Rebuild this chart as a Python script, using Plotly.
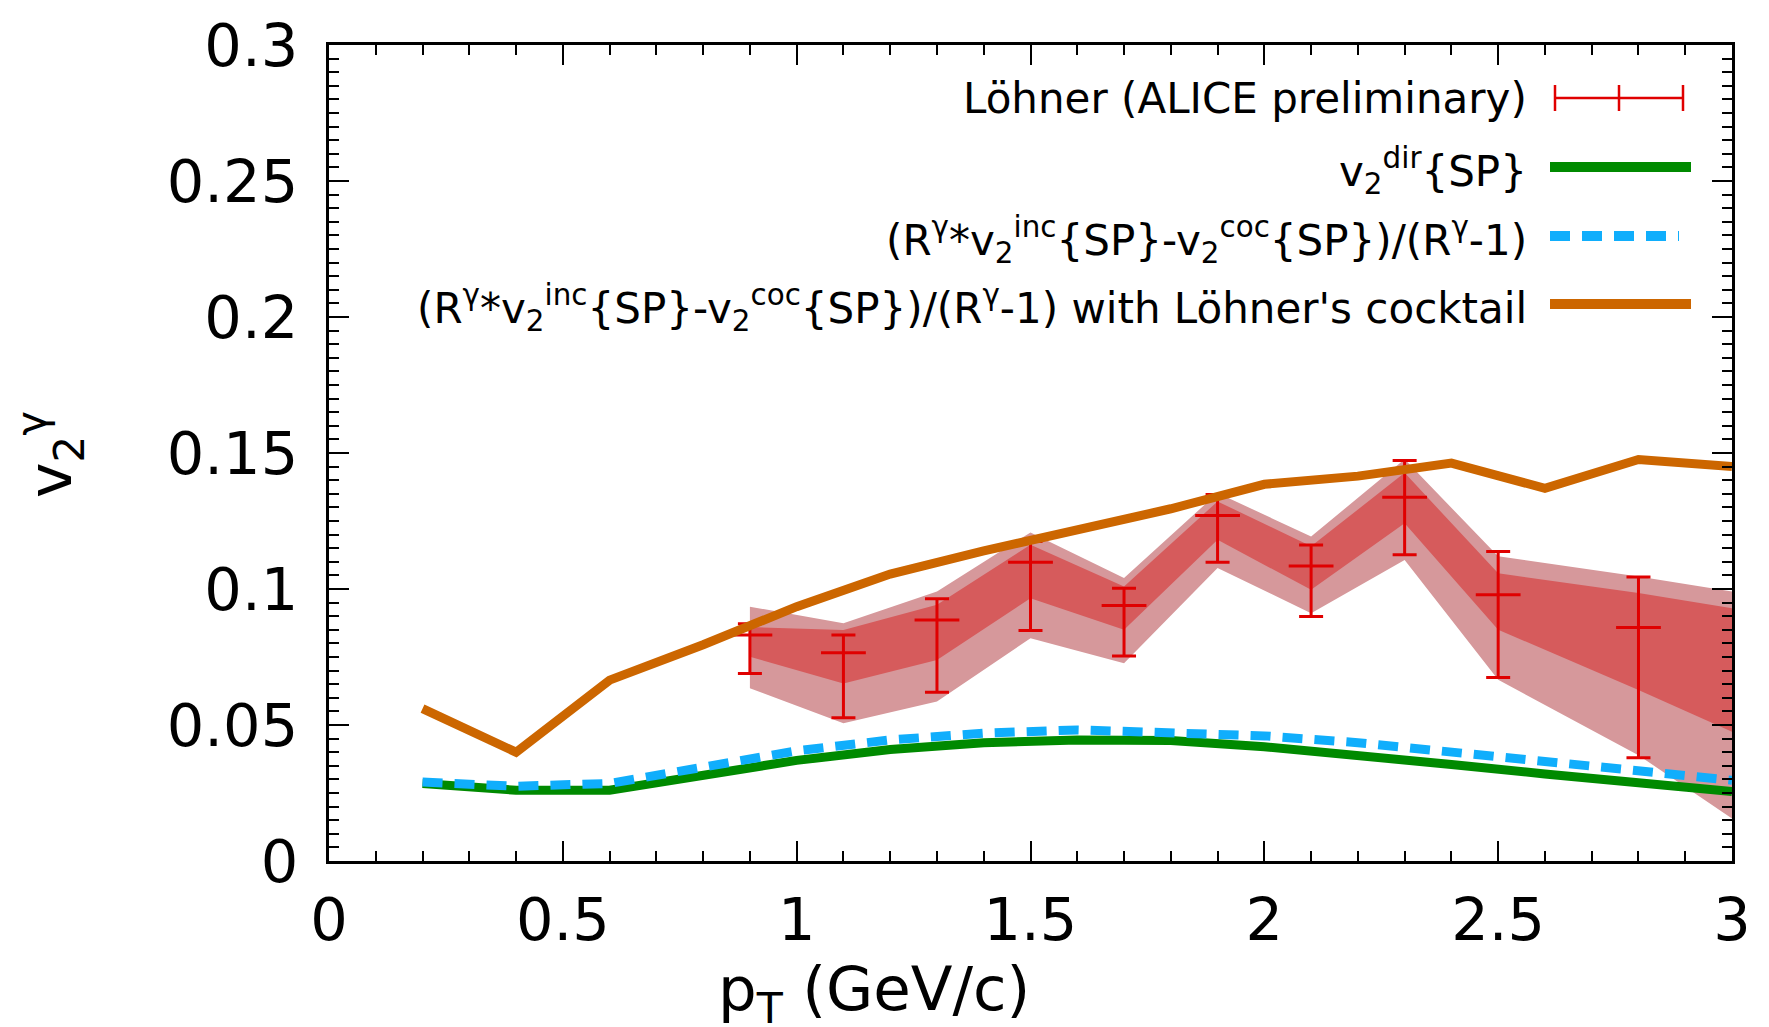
import plotly.graph_objects as go

# ---------------- data ----------------
pt_curve = [0.2, 0.4, 0.6, 0.8, 1.0, 1.2, 1.4, 1.6, 1.8, 2.0, 2.2, 2.4, 2.6, 2.8, 3.0]
v2_dir_sp = [0.0285, 0.026, 0.026, 0.0318, 0.037, 0.041, 0.0435, 0.0445, 0.0443,
             0.042, 0.039, 0.0355, 0.032, 0.029, 0.0255]
v2_ratio_sp = [0.029, 0.0275, 0.0285, 0.0345, 0.0405, 0.0445, 0.047, 0.0482, 0.0475,
               0.046, 0.0435, 0.040, 0.037, 0.0335, 0.0297]
v2_lohner_cocktail = [0.056, 0.040, 0.0665, 0.0795, 0.0935, 0.1055, 0.114, 0.1215, 0.1295,
                      0.1385, 0.1415, 0.1463, 0.137, 0.1476, 0.145]

pt_data = [0.9, 1.1, 1.3, 1.5, 1.7, 1.9, 2.1, 2.3, 2.5, 2.8]
v2_data = [0.0831, 0.0766, 0.0886, 0.1098, 0.0939, 0.127, 0.1085, 0.1337, 0.0979, 0.0858]
v2_data_high = [0.0872, 0.0831, 0.0964, 0.1175, 0.1003, 0.1347, 0.1162, 0.1472, 0.1138, 0.1044]
v2_data_low = [0.0689, 0.0527, 0.062, 0.0847, 0.0754, 0.1098, 0.0899, 0.1126, 0.0675, 0.038]

pt_band = [0.9, 1.1, 1.3, 1.5, 1.7, 1.9, 2.1, 2.3, 2.5, 2.8, 3.0]
band_outer_high = [0.0935, 0.0874, 0.0991, 0.1208, 0.104, 0.1353, 0.1193, 0.1477, 0.112, 0.1046, 0.0991]
band_inner_high = [0.086, 0.0849, 0.0942, 0.1163, 0.1009, 0.1322, 0.1157, 0.1427, 0.1058, 0.0985, 0.0929]
band_inner_low = [0.0751, 0.0653, 0.0739, 0.0966, 0.085, 0.1181, 0.0997, 0.1242, 0.085, 0.0629, 0.0475]
band_outer_low = [0.0635, 0.0506, 0.0586, 0.0819, 0.0727, 0.1077, 0.0911, 0.1107, 0.0666, 0.0389, 0.0156]

x_tickvals = [0, 0.5, 1, 1.5, 2, 2.5, 3]
x_ticktext = ["0", "0.5", "1", "1.5", "2", "2.5", "3"]
y_tickvals = [0, 0.05, 0.1, 0.15, 0.2, 0.25, 0.3]
y_ticktext = ["0", "0.05", "0.1", "0.15", "0.2", "0.25", "0.3"]

legend_labels = [
    "Löhner (ALICE preliminary)",
    "v<sub>2</sub><sup>dir</sup>{SP}",
    "(R<sup>γ</sup>*v<sub>2</sub><sup>inc</sup>{SP}-v<sub>2</sub><sup>coc</sup>{SP})/(R<sup>γ</sup>-1)",
    "(R<sup>γ</sup>*v<sub>2</sub><sup>inc</sup>{SP}-v<sub>2</sub><sup>coc</sup>{SP})/(R<sup>γ</sup>-1) with Löhner's cocktail",
]

# ---------------- style ----------------
FONT = "DejaVu Sans"
RED = "#e00000"
GREEN = "#008a00"
BLUE = "#10aefc"
ORANGE = "#cc6600"
PINK = "#d6989b"
DARKRED = "#d65b5c"

W, H = 1769, 1027
ML, MR, MT, MB = 321, 45, 37, 174
PW, PH = W - ML - MR, H - MT - MB


def px(x):  # pixel -> paper x
    return (x - ML) / PW


def py(y):  # pixel -> paper y
    return (H - MB - y) / PH


fig = go.Figure()

# bands
fig.add_trace(go.Scatter(
    x=pt_band + pt_band[::-1], y=band_outer_high + band_outer_low[::-1],
    fill="toself", fillcolor=PINK, line=dict(width=0), mode="lines",
    hoverinfo="skip", showlegend=False))
fig.add_trace(go.Scatter(
    x=pt_band + pt_band[::-1], y=band_inner_high + band_inner_low[::-1],
    fill="toself", fillcolor=DARKRED, line=dict(width=0), mode="lines",
    hoverinfo="skip", showlegend=False))

# data points with error bars
fig.add_trace(go.Scatter(
    x=pt_data, y=v2_data, mode="markers",
    marker=dict(symbol="line-ew", size=32, color=RED, line=dict(color=RED, width=3)),
    error_y=dict(type="data", symmetric=False,
                 array=[h - v for h, v in zip(v2_data_high, v2_data)],
                 arrayminus=[v - l for v, l in zip(v2_data, v2_data_low)],
                 color=RED, thickness=3, width=12),
    showlegend=False))

# curves
fig.add_trace(go.Scatter(x=pt_curve, y=v2_dir_sp, mode="lines",
                         line=dict(color=GREEN, width=9), showlegend=False))
fig.add_trace(go.Scatter(x=pt_curve, y=v2_ratio_sp, mode="lines",
                         line=dict(color=BLUE, width=9, dash="20px,12px"), showlegend=False))
fig.add_trace(go.Scatter(x=pt_curve, y=v2_lohner_cocktail, mode="lines",
                         line=dict(color=ORANGE, width=9), showlegend=False))

axis_common = dict(
    showgrid=False, zeroline=False, showline=True, linecolor="black", linewidth=3,
    mirror="allticks", ticks="inside", ticklen=20, tickwidth=2, tickcolor="black",
    tickfont=dict(family=FONT, size=59, color="black"), automargin=False,
)

fig.update_xaxes(range=[0, 3], tickvals=x_tickvals, ticktext=x_ticktext,
                 ticklabelstandoff=5,
                 minor=dict(dtick=0.1, ticks="inside", ticklen=10, tickwidth=2,
                            tickcolor="black", showgrid=False),
                 **axis_common)
fig.update_yaxes(range=[0, 0.3], tickvals=y_tickvals, ticktext=y_ticktext,
                 ticklabelstandoff=16,
                 minor=dict(dtick=0.005, ticks="inside", ticklen=10, tickwidth=2,
                            tickcolor="black", showgrid=False),
                 **axis_common)

annotations = [
    dict(text="p<sub>T</sub> (GeV/c)", x=px(866), y=py(985), xref="paper", yref="paper",
         xanchor="center", yanchor="middle", showarrow=False,
         font=dict(family=FONT, size=61, color="black")),
    dict(text="v<sub>2</sub><sup>γ</sup>", x=px(42), y=py(447), xref="paper", yref="paper",
         xanchor="center", yanchor="middle", showarrow=False, textangle=-90,
         font=dict(family=FONT, size=60, color="black")),
]

# custom gnuplot-like key (text right-aligned, sample on the right)
row_y = [90, 159, 228, 296]
text_dy = [0, 4, 4, 4]
TEXT_RIGHT = 1521
for lbl, ry, dy in zip(legend_labels, row_y, text_dy):
    annotations.append(dict(text=lbl, x=px(TEXT_RIGHT), y=py(ry + dy), xref="paper", yref="paper",
                            xanchor="right", yanchor="middle", showarrow=False,
                            font=dict(family=FONT, size=42, color="black")))

shapes = []
# error-bar sample
shapes.append(dict(type="line", xref="paper", yref="paper", x0=px(1547), x1=px(1675),
                   y0=py(row_y[0]), y1=py(row_y[0]), line=dict(color=RED, width=2.5)))
for sx in (1547, 1611, 1675):
    shapes.append(dict(type="line", xref="paper", yref="paper", x0=px(sx), x1=px(sx),
                       y0=py(row_y[0] - 13), y1=py(row_y[0] + 13), line=dict(color=RED, width=2.5)))
shapes.append(dict(type="line", xref="paper", yref="paper", x0=px(1542), x1=px(1683),
                   y0=py(row_y[1]), y1=py(row_y[1]), line=dict(color=GREEN, width=10)))
shapes.append(dict(type="line", xref="paper", yref="paper", x0=px(1542), x1=px(1671),
                   y0=py(row_y[2]), y1=py(row_y[2]), line=dict(color=BLUE, width=10, dash="20px,12px")))
shapes.append(dict(type="line", xref="paper", yref="paper", x0=px(1542), x1=px(1683),
                   y0=py(row_y[3]), y1=py(row_y[3]), line=dict(color=ORANGE, width=10)))

fig.update_layout(
    width=W, height=H,
    margin=dict(l=ML, r=MR, t=MT, b=MB, pad=0),
    plot_bgcolor="white", paper_bgcolor="white",
    showlegend=False,
    annotations=annotations,
    shapes=shapes,
    font=dict(family=FONT, color="black"),
)

fig.write_html("out.html")
